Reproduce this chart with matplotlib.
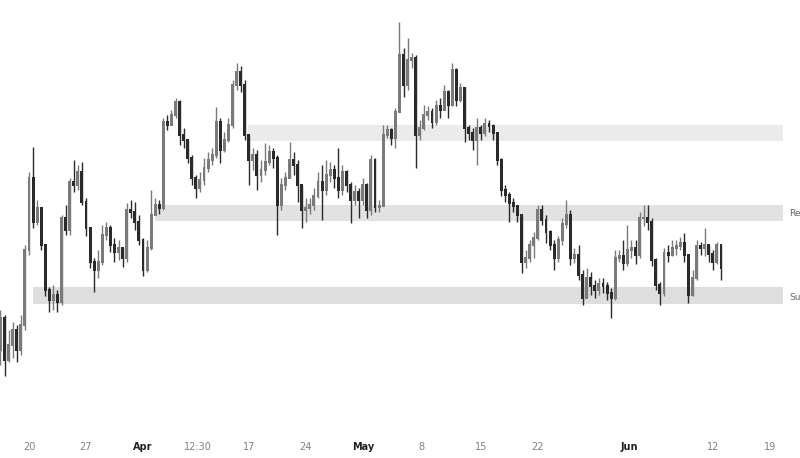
import numpy as np
import matplotlib
matplotlib.use("Agg")
import matplotlib.pyplot as plt

# price series, one candle per half session (open = previous close)
first_open = 80
close = [112, 70, 85, 100, 80, 105, 180, 252, 208, 222,
         185, 140, 130, 135, 128, 212, 200, 248, 245, 258,
         228, 202, 168, 160, 168, 195, 202, 185, 178, 182,
         172, 220, 218, 208, 190, 160, 182, 215, 225, 222,
         308, 305, 315, 328, 295, 290, 272, 252, 242, 250,
         262, 270, 275, 308, 280, 290, 305, 345, 358, 345,
         295, 270, 275, 255, 260, 268, 278, 272, 225, 245,
         252, 270, 265, 245, 220, 222, 225, 234, 248, 240,
         255, 260, 252, 240, 258, 245, 230, 238, 230, 245,
         220, 270, 223, 224, 295, 300, 292, 318, 375, 345,
         370, 372, 295, 302, 315, 318, 308, 324, 320, 338,
         325, 360, 330, 342, 302, 297, 290, 302, 297, 306,
         304, 297, 270, 240, 235, 227, 224, 215, 168, 172,
         185, 192, 220, 210, 198, 185, 172, 190, 206, 215,
         172, 175, 155, 132, 152, 144, 140, 146, 144, 137,
         132, 172, 174, 167, 180, 182, 175, 212, 212, 208,
         170, 145, 137, 177, 175, 182, 184, 187, 175, 135,
         152, 184, 182, 185, 176, 168, 185, 162]
high = [120, 115, 100, 108, 105, 115, 185, 258, 283, 230,
        222, 185, 143, 145, 140, 215, 225, 252, 270, 265,
        268, 232, 202, 172, 180, 205, 208, 205, 192, 190,
        182, 227, 230, 228, 215, 192, 190, 240, 232, 230,
        312, 315, 320, 332, 330, 302, 290, 275, 255, 258,
        272, 278, 282, 323, 312, 298, 312, 350, 367, 364,
        350, 295, 282, 280, 270, 287, 285, 282, 275, 252,
        258, 288, 278, 270, 245, 232, 232, 242, 258, 265,
        270, 268, 265, 282, 265, 260, 248, 245, 242, 252,
        247, 275, 272, 230, 305, 305, 302, 322, 408, 382,
        392, 377, 375, 310, 325, 324, 322, 330, 332, 345,
        340, 367, 362, 347, 343, 305, 302, 312, 305, 312,
        310, 306, 298, 272, 245, 238, 232, 225, 215, 180,
        190, 198, 225, 225, 215, 200, 190, 194, 212, 230,
        220, 182, 185, 160, 162, 158, 150, 152, 152, 148,
        142, 180, 180, 190, 205, 190, 190, 218, 225, 225,
        212, 172, 148, 182, 185, 190, 190, 193, 197, 175,
        160, 190, 188, 202, 185, 180, 188, 185]
low = [65, 54, 68, 72, 68, 75, 100, 175, 202, 205,
       180, 134, 118, 120, 118, 125, 195, 195, 238, 240,
       225, 194, 162, 138, 152, 165, 190, 178, 168, 170,
       163, 168, 212, 200, 185, 154, 158, 180, 215, 216,
       220, 300, 305, 312, 285, 282, 267, 245, 232, 238,
       245, 258, 265, 272, 267, 278, 288, 302, 340, 338,
       290, 245, 260, 240, 248, 255, 265, 262, 195, 220,
       240, 252, 255, 228, 202, 208, 216, 220, 232, 210,
       235, 248, 242, 232, 235, 238, 207, 225, 212, 225,
       212, 215, 218, 218, 225, 292, 285, 282, 318, 333,
       340, 362, 262, 290, 300, 310, 302, 305, 312, 330,
       312, 324, 324, 328, 288, 290, 280, 265, 290, 294,
       298, 290, 265, 234, 228, 208, 218, 208, 157, 162,
       168, 172, 190, 205, 187, 180, 160, 168, 185, 202,
       165, 167, 150, 125, 132, 135, 132, 135, 137, 130,
       112, 130, 168, 160, 164, 172, 166, 172, 204, 200,
       164, 140, 125, 134, 168, 174, 175, 180, 168, 127,
       134, 150, 175, 174, 168, 160, 166, 150]

# support / resistance zones: (price low, price high, first bar)
zone_low = [289, 209, 126]
zone_high = [305, 225, 143]
zone_start = [60.8, 38.0, 8.0]
zone_colors = ["#ebebeb", "#e2e2e2", "#dedede"]
zone_end = 192.3

tick_pos = [7, 21, 35, 48.5, 61, 75, 89, 103.5, 118, 132, 154.5, 175, 189]
tick_labels = ["20", "27", "Apr", "12:30", "17", "24", "May", "8", "15",
               "22", "Jun", "12", "19"]
month_labels = ["Apr", "May", "Jun"]

close = np.array(close, dtype=float)
opens = np.concatenate([[first_open], close[:-1]])
high = np.maximum(np.array(high, dtype=float), np.maximum(opens, close))
low = np.minimum(np.array(low, dtype=float), np.minimum(opens, close))
x = np.arange(len(close))

fig = plt.figure(figsize=(8, 4.58), dpi=100)
ax = fig.add_axes([0, 28 / 458, 1, 430 / 458])

for lo, hi, start, col in zip(zone_low, zone_high, zone_start, zone_colors):
    ax.fill_between([start, zone_end], lo, hi, color=col, lw=0, zorder=1)

up = close >= opens
colors = np.where(up, "#7a7a7a", "#2a2a2a")
ax.vlines(x, low, high, colors=colors, lw=1.0, zorder=2)
ax.bar(x, np.abs(close - opens) + 1.5, bottom=np.minimum(opens, close) - 0.75,
       width=0.72, color=colors, lw=0, zorder=3)

# zone labels run off the right edge, as in the original screenshot
ax.text(193.7, 217, "Resistance", fontsize=6.5, color="#666666", va="center",
        ha="left", clip_on=False)
ax.text(193.7, 133, "Support", fontsize=6.5, color="#666666", va="center",
        ha="left", clip_on=False)

ax.set_xlim(-0.12, 196.4)
ax.set_ylim(0, 430)
ax.set_xticks(tick_pos)
ax.set_xticklabels(tick_labels)
for lab in ax.get_xticklabels():
    lab.set_fontsize(7)
    if lab.get_text() in month_labels:
        lab.set_color("#222222")
        lab.set_fontweight("bold")
    else:
        lab.set_color("#808080")
ax.tick_params(axis="x", length=0, pad=9)
ax.set_yticks([])
for s in ax.spines.values():
    s.set_visible(False)

fig.savefig("out.png", dpi=100)
